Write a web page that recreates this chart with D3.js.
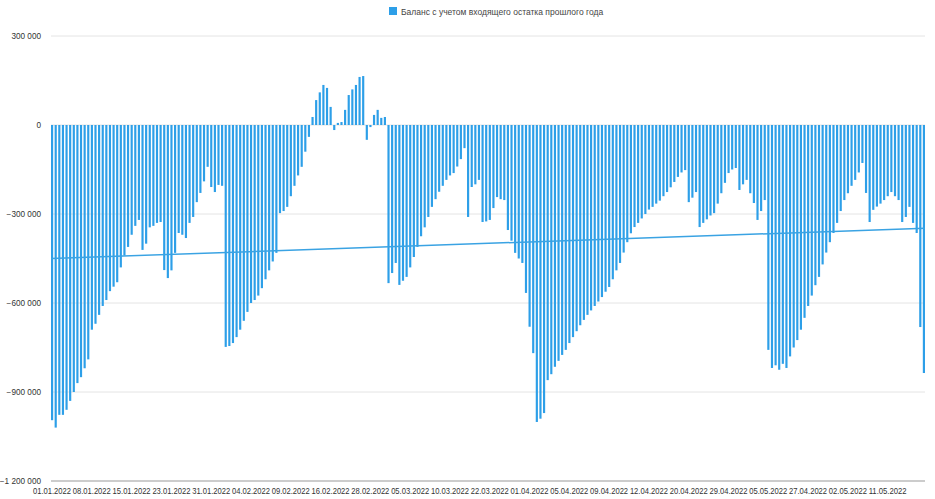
<!DOCTYPE html>
<html>
<head>
<meta charset="utf-8">
<script src="https://cdn.jsdelivr.net/npm/d3@7"></script>
<style>
  body { margin: 0; background: #fff; }
  text { font-family: "Liberation Sans", Arial, sans-serif; }
</style>
</head>
<body>
<svg id="chart" width="935" height="499"></svg>
<script>
// Balance values, thousands of rubles per bar
var balance = [
  -995,-1020,-977,-977,-960,-930,-900,-870,-850,-820,-790,-690,-670,-640,-610,-590,-560,-545,-530,-480,
  -440,-411,-370,-340,-320,-421,-400,-345,-340,-330,-327,-489,-516,-490,-431,-364,-370,-381,-330,-310,
  -260,-229,-190,-141,-209,-226,-202,-205,-748,-745,-735,-715,-690,-660,-630,-600,-590,-575,-550,-520,
  -490,-460,-431,-297,-290,-276,-240,-205,-170,-141,-90,-40,27,84,110,135,125,61,-17,7,
  10,51,101,120,135,162,165,-50,-7,34,51,24,27,-533,-499,-465,-539,-525,-512,-480,
  -445,-411,-375,-345,-310,-276,-250,-225,-205,-185,-170,-162,-140,-115,-78,-310,-209,-200,-185,-327,
  -325,-320,-280,-243,-250,-253,-354,-390,-431,-450,-465,-566,-680,-769,-1001,-990,-971,-860,-840,-815,
  -795,-775,-758,-735,-715,-695,-675,-657,-640,-625,-610,-595,-580,-562,-546,-520,-490,-465,-430,-395,
  -365,-344,-330,-315,-300,-285,-276,-265,-255,-240,-226,-210,-192,-175,-160,-152,-260,-245,-226,-344,
  -330,-318,-305,-297,-265,-230,-195,-162,-150,-145,-219,-200,-185,-230,-263,-320,-290,-253,-758,-819,
  -810,-825,-805,-819,-780,-750,-725,-690,-650,-610,-575,-540,-512,-470,-430,-395,-364,-330,-290,-253,
  -230,-205,-185,-160,-128,-229,-327,-286,-275,-265,-253,-240,-226,-240,-253,-327,-310,-276,-330,-364,
  -681,-836
].map(function (v) { return v * 1000; });

var tickLabels = ["01.01.2022","08.01.2022","15.01.2022","23.01.2022","31.01.2022","04.02.2022",
  "09.02.2022","16.02.2022","28.02.2022","05.03.2022","10.03.2022","22.03.2022","01.04.2022",
  "05.04.2022","09.04.2022","12.04.2022","20.04.2022","29.04.2022","05.05.2022","27.04.2022",
  "02.05.2022","11.05.2022"];
var yTicks = [300000, 0, -300000, -600000, -900000, -1200000];
var trend = [-450000, -348000]; // trend line start / end
var seriesName = "Баланс с учетом входящего остатка прошлого года";

var svg = d3.select("#chart");
var margin = { left: 51, right: 10, top: 36, bottom: 18 };
var W = 935, H = 499;

var x = d3.scaleBand().domain(d3.range(balance.length))
  .range([margin.left, W - margin.right]).paddingInner(0.4);
var y = d3.scaleLinear().domain([-1200000, 300000]).range([H - margin.bottom, margin.top]);

var fmt = function (v) { return d3.format(",")(v).replace(/,/g, " "); };

// gridlines
svg.append("g").selectAll("line").data(yTicks.slice(0, -1)).join("line")
  .attr("x1", margin.left).attr("x2", W - margin.right)
  .attr("y1", d => y(d)).attr("y2", d => y(d))
  .attr("stroke", "#e4e4e4");

svg.append("g").selectAll("text").data(yTicks).join("text")
  .attr("x", 41).attr("y", d => y(d) + 3)
  .attr("text-anchor", "end").attr("font-size", 8.2).attr("fill", "#333")
  .text(fmt);

// bars
svg.append("g").selectAll("rect").data(balance).join("rect")
  .attr("x", (d, i) => x(i))
  .attr("width", x.bandwidth())
  .attr("y", d => y(Math.max(0, d)))
  .attr("height", d => Math.abs(y(d) - y(0)))
  .attr("fill", "#2d9fe8");

// trend line
svg.append("line")
  .attr("x1", x(0)).attr("x2", x(balance.length - 1) + x.bandwidth())
  .attr("y1", y(trend[0])).attr("y2", y(trend[1]))
  .attr("stroke", "#3aa3e3").attr("stroke-width", 1.5);

// x axis
svg.append("line")
  .attr("x1", margin.left).attr("x2", W - margin.right)
  .attr("y1", y(-1200000)).attr("y2", y(-1200000))
  .attr("stroke", "#999");

var step = balance.length / tickLabels.length;
svg.append("g").selectAll("text").data(tickLabels).join("text")
  .attr("x", (d, i) => x(Math.round(i * step)) + 1)
  .attr("y", H - 5)
  .attr("text-anchor", "middle").attr("font-size", 8.5).attr("fill", "#333")
  .attr("textLength", 38).attr("lengthAdjust", "spacingAndGlyphs")
  .text(d => d);

// legend
var lg = svg.append("g").attr("transform", "translate(389,7)");
lg.append("rect").attr("width", 8).attr("height", 8).attr("fill", "#2d9fe8");
lg.append("text").attr("x", 12).attr("y", 7.5).attr("font-size", 8.5).attr("fill", "#444").text(seriesName);
</script>
</body>
</html>
